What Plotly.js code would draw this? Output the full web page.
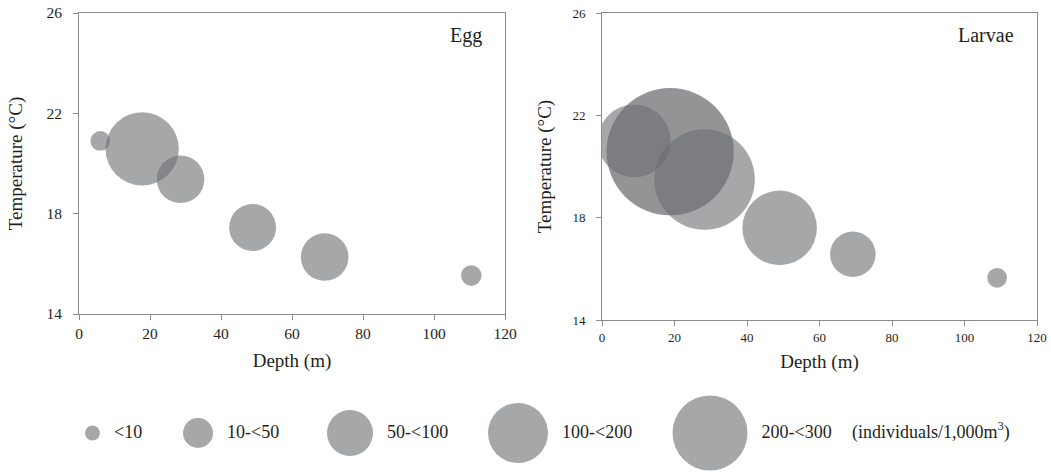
<!DOCTYPE html>
<html>
<head>
<meta charset="utf-8">
<script src="https://cdn.plot.ly/plotly-3.0.1.min.js"></script>
<style>html,body{margin:0;padding:0;background:#fff;}#chart{width:1051px;height:472px;}</style>
</head>
<body>
<div id="chart"></div>
<script>
// ---- data ----
var eggDepth = [6, 17.8, 28.6, 48.9, 69.2, 110.5];
var eggTemp = [20.9, 20.58, 19.37, 17.45, 16.27, 15.53];
var eggDensity = [6, 83, 35, 34, 35, 6.5];

var larvaeDepth = [8.9, 18.8, 28.3, 49.0, 69.2, 109.0];
var larvaeTemp = [21.0, 20.58, 19.49, 17.6, 16.57, 15.65];
var larvaeDensity = [82, 250, 156, 86, 32, 6];

var legendLabels = ['<10', '10-<50', '50-<100', '100-<200', '200-<300'];
var unitLabel = '(individuals/1,000m<sup>3</sup>)';

// ---- style / layout constants ----
var W = 1051, H = 472;
var FONT = 'Liberation Serif, Times New Roman, serif';
var TXT = '#231f20';
var LINE = '#8c8c8c';
var BUBBLE = 'rgb(110,111,115)';
var SIZEREF = 0.0309;
var legendCenters = [92.5, 198, 350, 518, 710];
var legendDiam = [15, 30, 46, 60, 75];
var legendGap = 14;

function opac(vals) {
  return vals.map(function (v) { return v >= 200 ? 0.74 : 0.61; });
}

var traces = [
  {
    x: eggDepth, y: eggTemp, type: 'scatter', mode: 'markers',
    xaxis: 'x', yaxis: 'y',
    marker: {size: eggDensity, sizemode: 'area', sizeref: SIZEREF, color: BUBBLE,
             opacity: opac(eggDensity), line: {width: 0}},
    hoverinfo: 'skip'
  },
  {
    x: larvaeDepth, y: larvaeTemp, type: 'scatter', mode: 'markers',
    xaxis: 'x2', yaxis: 'y2',
    marker: {size: larvaeDensity, sizemode: 'area', sizeref: SIZEREF, color: BUBBLE,
             opacity: opac(larvaeDensity), line: {width: 0}},
    hoverinfo: 'skip'
  },
  {
    x: legendCenters, y: legendLabels.map(function () { return 0.5; }),
    type: 'scatter', mode: 'markers', xaxis: 'x3', yaxis: 'y3',
    marker: {size: legendDiam, sizemode: 'diameter', color: BUBBLE, opacity: 0.61, line: {width: 0}},
    hoverinfo: 'skip'
  },
  {
    x: legendCenters.map(function (c, i) { return c + legendDiam[i] / 2 + legendGap; }).concat([852]),
    y: legendLabels.map(function () { return 0.5; }).concat([0.5]),
    text: legendLabels.map(function (s) { return s.replace(/</g, '&lt;'); }).concat([unitLabel]),
    type: 'scatter', mode: 'text', textposition: 'middle right',
    xaxis: 'x3', yaxis: 'y3',
    textfont: {family: FONT, size: 18, color: TXT},
    hoverinfo: 'skip'
  }
];

function xax(dom, anchor, fs, so) {
  return {
    domain: dom, anchor: anchor, range: [0, 120], dtick: 20, tick0: 0,
    ticks: 'outside', ticklen: 5, tickwidth: 1, tickcolor: LINE,
    showline: true, linecolor: LINE, linewidth: 1, mirror: true,
    showgrid: false, zeroline: false,
    tickfont: {family: FONT, size: fs, color: TXT},
    title: {text: 'Depth (m)', font: {family: FONT, size: 19, color: TXT}, standoff: so}
  };
}
function yax(dom, anchor, fs, so) {
  return {
    domain: dom, anchor: anchor, range: [14, 26], tickvals: [14, 18, 22, 26],
    ticks: 'outside', ticklen: 5, tickwidth: 1, tickcolor: LINE,
    showline: true, linecolor: LINE, linewidth: 1, mirror: true,
    showgrid: false, zeroline: false, ticklabelstandoff: 8,
    tickfont: {family: FONT, size: fs, color: TXT},
    title: {text: 'Temperature (°C)', font: {family: FONT, size: 19, color: TXT}, standoff: so}
  };
}

var layout = {
  width: W, height: H,
  margin: {l: 0, r: 0, t: 0, b: 0},
  paper_bgcolor: '#fff', plot_bgcolor: '#fff',
  showlegend: false,
  font: {family: FONT, color: TXT},
  xaxis: xax([79 / W, 505 / W], 'y', 15.5, 13),
  yaxis: yax([1 - 314 / H, 1 - 13 / H], 'x', 15.5, 18),
  xaxis2: xax([602 / W, 1037 / W], 'y2', 13, 11),
  yaxis2: yax([1 - 320 / H, 1 - 13 / H], 'x2', 13, 15),
  xaxis3: {domain: [0, 1], range: [0, W], visible: false, anchor: 'y3', fixedrange: true},
  yaxis3: {domain: [0, 2 * (1 - 433 / H)], range: [0, 1], visible: false, anchor: 'x3', fixedrange: true},
  annotations: [
    {text: 'Egg', xref: 'x domain', yref: 'y domain', x: 0.951, y: 0.924,
     xanchor: 'right', yanchor: 'middle', showarrow: false,
     font: {family: FONT, size: 20, color: TXT}},
    {text: 'Larvae', xref: 'x2 domain', yref: 'y2 domain', x: 0.951, y: 0.928,
     xanchor: 'right', yanchor: 'middle', showarrow: false,
     font: {family: FONT, size: 20, color: TXT}}
  ]
};

Plotly.newPlot('chart', traces, layout, {staticPlot: true, displayModeBar: false});
</script>
</body>
</html>
